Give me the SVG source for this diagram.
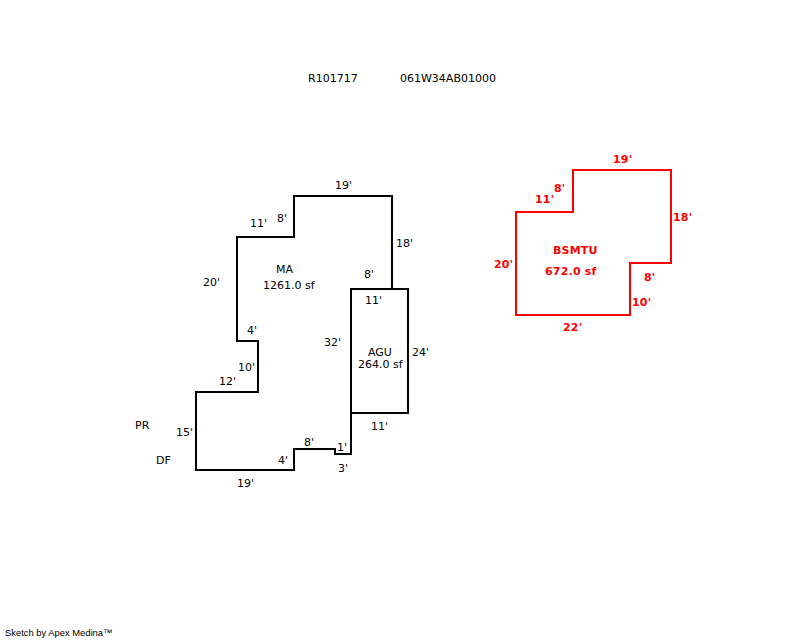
<svg xmlns="http://www.w3.org/2000/svg" width="800" height="640" viewBox="0 0 800 640">
<style>
text{font-family:"DejaVu Sans",Verdana,sans-serif;font-size:11px;fill:#000}
.o{fill:none;stroke:#000;stroke-width:2;shape-rendering:crispEdges}
.r{fill:none;stroke:#f00;stroke-width:2;shape-rendering:crispEdges}
#BSMTU text{fill:#f00;font-weight:bold;font-size:11px;letter-spacing:.2px}
</style>
<rect width="800" height="640" fill="#fff"/>
<g id="header">
<text x="308" y="82">R101717</text>
<text x="400" y="82">061W34AB01000</text>
</g>
<g id="MA">
<path class="o" d="M392 289V196H294V237H237V341H258V392H196V470H294V449H335V454H351V413"/>
<text x="335" y="189">19'</text>
<text x="277" y="222">8'</text>
<text x="250" y="227">11'</text>
<text x="396" y="247">18'</text>
<text x="276" y="273">MA</text>
<text x="263" y="289">1261.0 sf</text>
<text x="203" y="286">20'</text>
<text x="364" y="278">8'</text>
<text x="247" y="334">4'</text>
<text x="324" y="346">32'</text>
<text x="238" y="371">10'</text>
<text x="219" y="385">12'</text>
<text x="176" y="436">15'</text>
<text x="304" y="446">8'</text>
<text x="337" y="451">1'</text>
<text x="278" y="464">4'</text>
<text x="338" y="472">3'</text>
<text x="237" y="487">19'</text>
</g>
<g id="AGU">
<rect class="o" x="351" y="289" width="57" height="124"/>
<text x="365" y="304">11'</text>
<text x="368" y="356">AGU</text>
<text x="358" y="368">264.0 sf</text>
<text x="412" y="356">24'</text>
<text x="371" y="430">11'</text>
</g>
<g id="labels">
<text x="135" y="429">PR</text>
<text x="156" y="464">DF</text>
</g>
<g id="BSMTU">
<path class="r" d="M516 212H573V170H671V263H630V315H516Z"/>
<text x="613" y="163">19'</text>
<text x="554" y="192">8'</text>
<text x="535" y="203">11'</text>
<text x="673" y="221">18'</text>
<text x="553" y="254">BSMTU</text>
<text x="545" y="275">672.0 sf</text>
<text x="494" y="268">20'</text>
<text x="644" y="281">8'</text>
<text x="632" y="306">10'</text>
<text x="563" y="331">22'</text>
</g>
<text x="5" y="636" style="font-family:'Liberation Sans',Arial,sans-serif;font-size:9.4px">Sketch by Apex Medina™</text>
</svg>
